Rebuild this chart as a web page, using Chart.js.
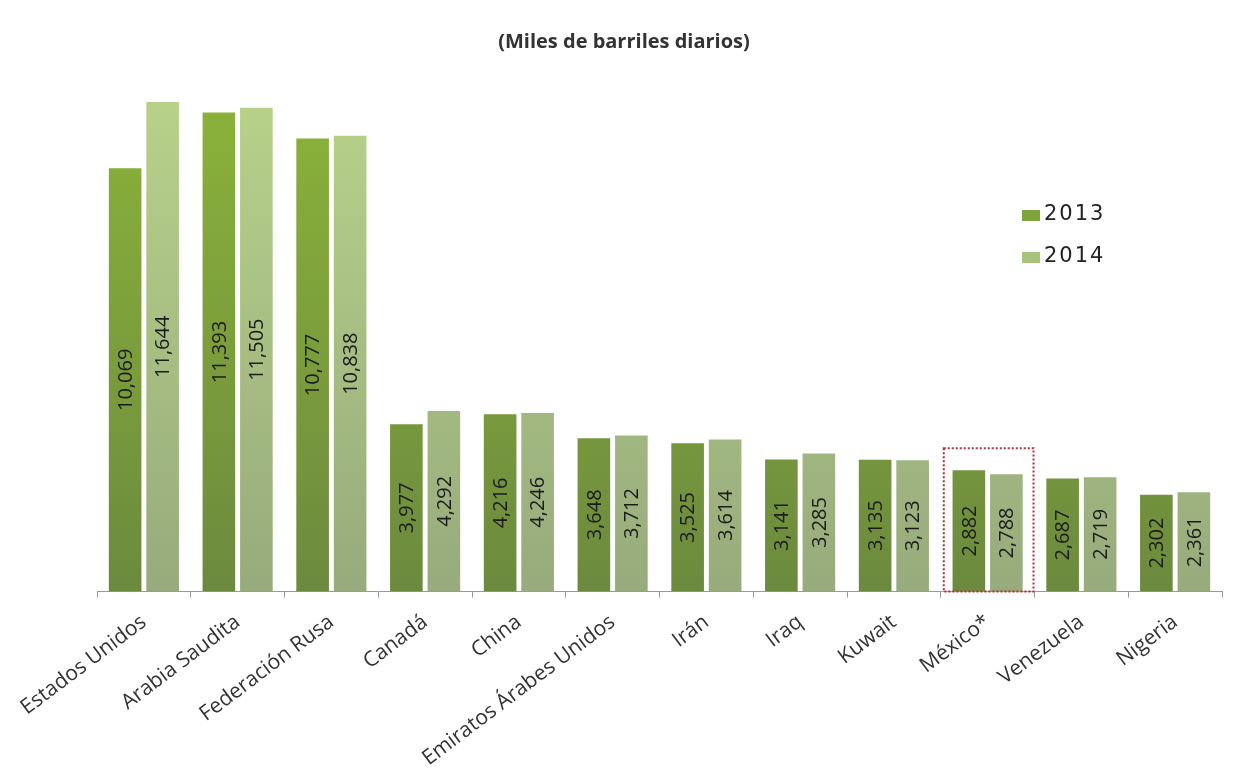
<!DOCTYPE html>
<html>
<head>
<meta charset="utf-8">
<script src="https://cdn.jsdelivr.net/npm/chart.js@4"></script>
<style>
html,body{margin:0;padding:0;background:#fff;}
#wrap{width:1236px;height:770px;position:relative;}
</style>
</head>
<body>
<div id="wrap"><canvas id="c" width="1236" height="770"></canvas></div>
<script>
const categories = ["Estados Unidos","Arabia Saudita","Federación Rusa","Canadá","China","Emiratos Árabes Unidos","Irán","Iraq","Kuwait","México*","Venezuela","Nigeria"];
const values2013 = [10069,11393,10777,3977,4216,3648,3525,3141,3135,2882,2687,2302];
const values2014 = [11644,11505,10838,4292,4246,3712,3614,3285,3123,2788,2719,2361];
const seriesNames = ["2013","2014"];
const titleText = "(Miles de barriles diarios)";
const highlightCategory = "México*";

function grad(ctx, top, bottom){
  const ch = ctx.chart; const a = ch.chartArea;
  if(!a) return top;
  const g = ch.ctx.createLinearGradient(0, a.top, 0, a.bottom);
  g.addColorStop(0, top); g.addColorStop(1, bottom);
  return g;
}

const labelPlugin = {
  id:'barLabels',
  afterDatasetsDraw(chart){
    const ctx = chart.ctx;
    ctx.save();
    ctx.fillStyle = '#1b1b1b';
    ctx.font = '20px "Open Sans", "DejaVu Sans", sans-serif';
    ctx.textAlign = 'center'; ctx.textBaseline = 'middle';
    chart.data.datasets.forEach((ds, di) => {
      const meta = chart.getDatasetMeta(di);
      meta.data.forEach((bar, i) => {
        const v = ds.data[i];
        const cy = (bar.y + bar.base)/2;
        ctx.save();
        ctx.translate(bar.x, cy);
        ctx.rotate(-Math.PI/2);
        ctx.fillText(v.toLocaleString('en-US'), 0, 1);
        ctx.restore();
      });
    });
    ctx.restore();
  }
};

const extrasPlugin = {
  id:'extras',
  afterDraw(chart){
    const ctx = chart.ctx;
    const xs = chart.scales.x, ys = chart.scales.y;
    // title
    ctx.save();
    ctx.font = 'bold 20px "Open Sans", sans-serif';
    ctx.fillStyle = '#333';
    ctx.textAlign = 'center'; ctx.textBaseline = 'middle';
    ctx.fillText(titleText, 624, 42);
    ctx.restore();
    // highlight box
    const idx = categories.indexOf(highlightCategory);
    if(idx >= 0){
      const cw = xs.width / categories.length;
      const cx = xs.getPixelForValue(idx);
      const m = Math.max(values2013[idx], values2014[idx]);
      const top = ys.getPixelForValue(m) - 22;
      ctx.save();
      ctx.strokeStyle = '#b0303a';
      ctx.lineWidth = 2;
      ctx.setLineDash([2,2]);
      ctx.strokeRect(cx - cw/2 + 3, top, cw - 4, ys.getPixelForValue(0) - top);
      ctx.restore();
    }
    // legend
    const colors = ['#7da33c','#a8c47c'];
    ctx.save();
    ctx.font = '21px "DejaVu Sans", sans-serif';
    if ('letterSpacing' in ctx) ctx.letterSpacing = '2px';
    ctx.textBaseline = 'middle';
    seriesNames.forEach((n, i) => {
      const y = 215 + i*42;
      ctx.fillStyle = colors[i];
      ctx.fillRect(1022, y - 5, 18, 11);
      ctx.fillStyle = '#222';
      ctx.fillText(n, 1044, y);
    });
    ctx.restore();
  }
};

new Chart(document.getElementById('c'), {
  type:'bar',
  data:{
    labels: categories,
    datasets:[
      {label: seriesNames[0], data: values2013,
       backgroundColor: c => grad(c, '#8cb33a', '#6c8a3e')},
      {label: seriesNames[1], data: values2014,
       backgroundColor: c => grad(c, '#b8d28a', '#97ab7c')}
    ]
  },
  options:{
    responsive:false,
    animation:false,
    devicePixelRatio:1,
    layout:{padding:{left:97, right:14, top:87, bottom:-13}},
    datasets:{bar:{categoryPercentage:0.8, barPercentage:0.87}},
    plugins:{
      legend:{display:false},
      tooltip:{enabled:false},
      title:{display:false}
    },
    scales:{
      x:{
        grid:{display:true, drawOnChartArea:false, drawTicks:true, tickLength:6, color:'#999', offset:true},
        border:{display:true, color:'#999', width:1},
        ticks:{color:'#333', maxRotation:37, minRotation:37, autoSkip:false, labelOffset:0, padding:12,
          font:{family:'"Open Sans", sans-serif', size:21}}
      },
      y:{display:false, min:0, max:12000}
    }
  },
  plugins:[labelPlugin, extrasPlugin]
});
</script>
</body>
</html>
